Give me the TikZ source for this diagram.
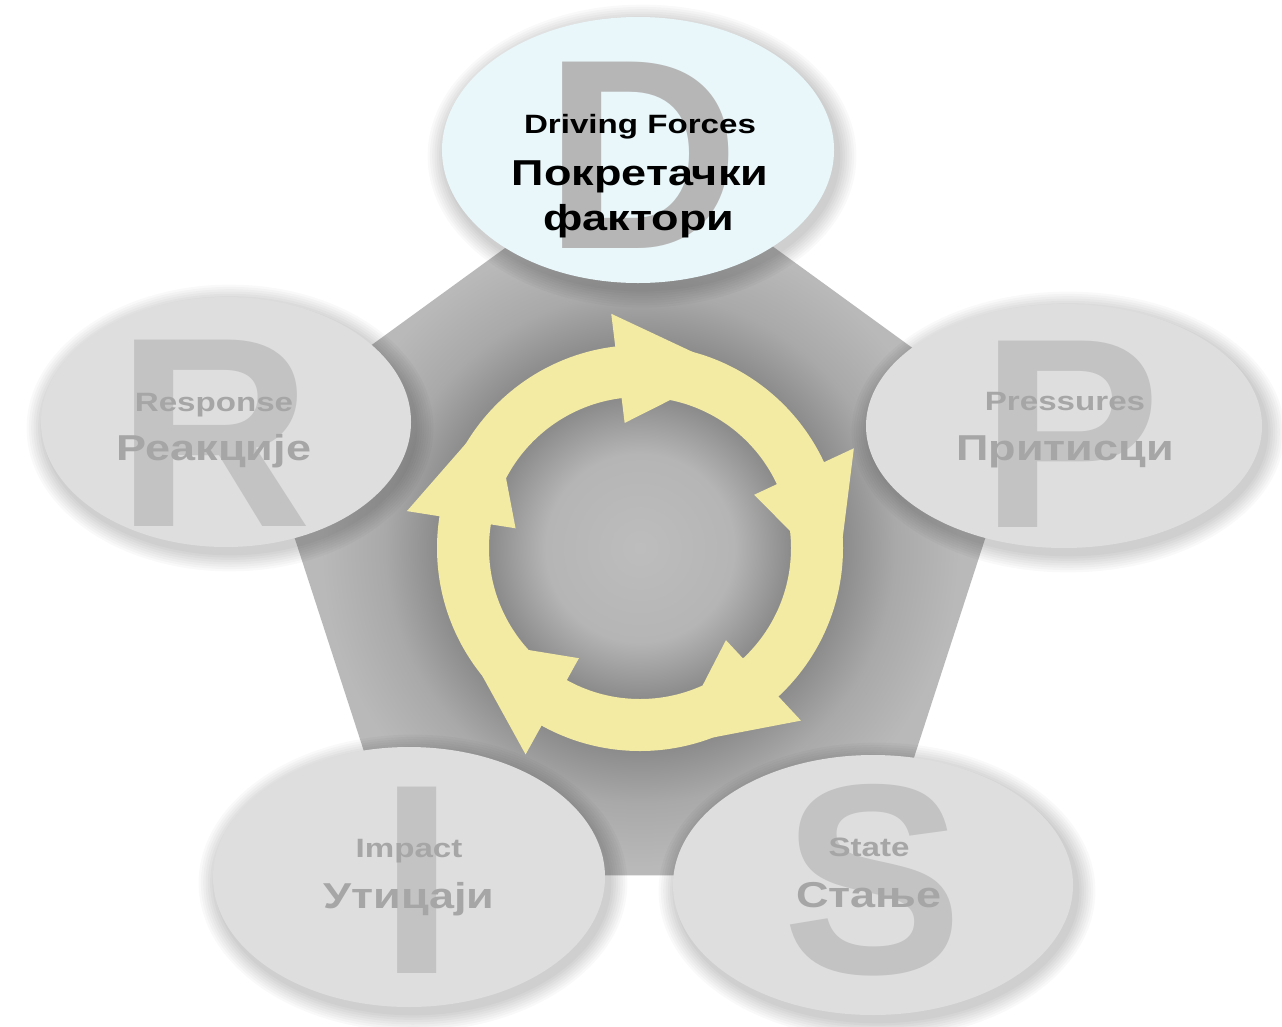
\documentclass[tikz,border=0pt]{standalone}
\usepackage{fontspec}
\setmainfont{Liberation Sans}
\usepackage{graphicx}
\usetikzlibrary{shapes.geometric,calc}

% palette
\definecolor{ringyellow}{HTML}{F3EAA3}
\definecolor{ovalgray}{HTML}{DEDEDE}
\definecolor{ovalcyan}{HTML}{E9F7FA}
\definecolor{lettergray}{HTML}{C3C3C3}
\definecolor{lettergrayD}{HTML}{B6B6B6}
\definecolor{labelgray}{HTML}{A6A6A6}
\definecolor{pentA}{HTML}{BDBDBD}
\definecolor{pentB}{HTML}{B5B5B5}
\definecolor{pentC}{HTML}{8C8C8C}
\definecolor{pentD}{HTML}{A9A9A9}
\definecolor{pentE}{HTML}{B9B9B9}

% radial shading of the pentagon, dark around the ring
\pgfdeclareradialshading{pentshade}{\pgfpoint{0bp}{0bp}}{%
  color(0bp)=(pentA); color(5.6bp)=(pentB); color(8.9bp)=(pentC);
  color(12.1bp)=(pentC); color(15.2bp)=(pentD); color(19bp)=(pentE);
  color(25bp)=(pentE); color(50bp)=(pentE)}

% soft shadow below an oval: centre x, centre y, x radius, y radius
\newcommand\ovalshadow[4]{%
  \foreach \k in {1,...,8}{%
    \fill[black,opacity=0.022] (#1+4,#2-6) ellipse [x radius=#3+\k*2.3, y radius=#4+\k*2.3];}}

\begin{document}
\begin{tikzpicture}[x=1pt,y=1pt,
  oval/.style={ellipse, inner sep=0pt, outer sep=0pt, fill=ovalgray},
  bigletter/.style={anchor=base, inner sep=0pt, font=\bfseries\fontsize{271}{271}\selectfont, text=lettergray},
  smalllabel/.style={anchor=base, inner sep=0pt, font=\bfseries\fontsize{26.5}{30}\selectfont, text=labelgray},
  biglabel/.style={anchor=base, inner sep=0pt, font=\bfseries\fontsize{36}{40}\selectfont, text=labelgray}]

\fill[white] (0,0) rectangle (1282,-1026);
\useasboundingbox (0,0) rectangle (1282,-1026);

% pentagon
\coordinate (pc) at (640,-551);
\path (pc) ++(90:401) coordinate (v1)
      (pc) ++(18:401) coordinate (v2)
      (pc) ++(-54:401) coordinate (v3)
      (pc) ++(-126:401) coordinate (v4)
      (pc) ++(162:401) coordinate (v5);
\coordinate (rc) at (640,-548);
\begin{scope}
  \clip (v1) -- (v2) -- (v3) -- (v4) -- (v5) -- cycle;
  \shade[shading=pentshade] (rc) circle[radius=420];
\end{scope}

% cycle of five arrows
\fill[ringyellow, even odd rule] (rc) circle[radius=203] (rc) circle[radius=151];
\foreach \t in {97,25,-47,-119,171}{%
  \fill[ringyellow] ($(rc)+(\t:236)$) -- ($(rc)+(\t-22:203)$) -- ($(rc)+(\t-18.5:151)$) -- ($(rc)+(\t:126)$) -- cycle;}

% shadows of the ovals
\ovalshadow{638}{-150}{196}{133}
\ovalshadow{226}{-422}{185}{125}
\ovalshadow{1064}{-426}{198}{122}
\ovalshadow{409}{-877}{196}{130}
\ovalshadow{873}{-885}{200}{130}

% ovals
\node[oval, fill=ovalcyan, minimum width=392pt, minimum height=266pt] (D) at (638,-150) {};
\node[oval, minimum width=370pt, minimum height=250pt] (R) at (226,-422) {};
\node[oval, minimum width=396pt, minimum height=244pt] (P) at (1064,-426) {};
\node[oval, minimum width=392pt, minimum height=260pt] (I) at (409,-877) {};
\node[oval, minimum width=400pt, minimum height=260pt] (S) at (873,-885) {};

% large initials
\node[bigletter, text=lettergrayD] (Dl) at (642,-248) {D};
\node[bigletter] (Rl) at (214,-526) {R};
\node[bigletter] (Pl) at (1071,-527) {P};
\node[bigletter] (Il) at (417,-973) {I};
\node[bigletter] (Sl) at (873,-973) {S};

% labels
\node[smalllabel, text=black] (Den) at (640,-133) {\scalebox{1.25}[1]{Driving Forces}};
\node[biglabel, text=black] (Dsr1) at (640,-185) {\scalebox{1.25}[1]{Покретачки}};
\node[biglabel, text=black] (Dsr2) at (639,-230) {\scalebox{1.25}[1]{фактори}};

\node[smalllabel] (Ren) at (214,-411) {\scalebox{1.25}[1]{Response}};
\node[biglabel] (Rsr) at (214,-460) {\scalebox{1.25}[1]{Реакције}};

\node[smalllabel] (Pen) at (1065,-410) {\scalebox{1.25}[1]{Pressures}};
\node[biglabel] (Psr) at (1065,-460) {\scalebox{1.25}[1]{Притисци}};

\node[smalllabel] (Ien) at (409,-857) {\scalebox{1.25}[1]{Impact}};
\node[biglabel] (Isr) at (409,-908) {\scalebox{1.25}[1]{Утицаји}};

\node[smalllabel] (Sen) at (869,-856) {\scalebox{1.25}[1]{State}};
\node[biglabel] (Ssr) at (869,-907) {\scalebox{1.25}[1]{Стање}};

\end{tikzpicture}
\end{document}
